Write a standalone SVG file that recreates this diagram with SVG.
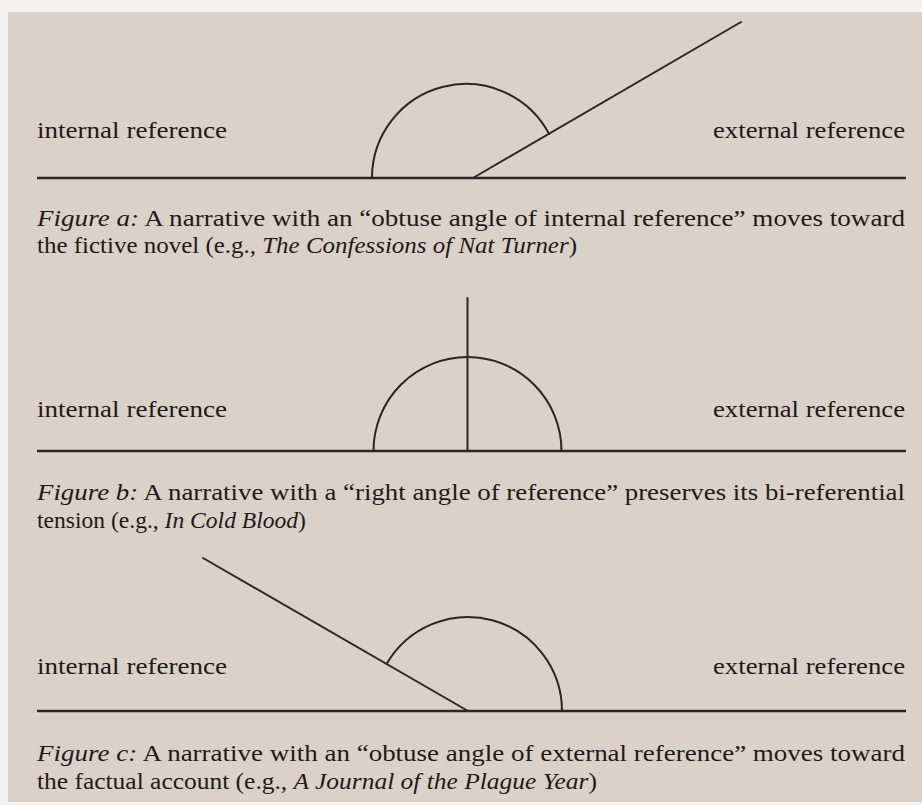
<svg xmlns="http://www.w3.org/2000/svg" width="922" height="805" viewBox="0 0 922 805">
<style>
.ln{stroke:#2b2623;stroke-width:2;fill:none;stroke-linecap:round}
.base{stroke:#2b2623;stroke-width:2.6;fill:none}
.t{font-family:"Liberation Serif","Times New Roman",serif;font-size:23px;fill:#1f1a17}
.i{font-style:italic}
</style>
<rect x="0" y="0" width="922" height="805" fill="#f4f2ef"/>
<rect x="8" y="12" width="914" height="790" fill="#dad1c9"/>

<g id="figure-a">
  <line class="base" x1="37" y1="178" x2="906" y2="178"/>
  <path class="ln" d="M372,178 A94,94 0 0 1 549.1,134"/>
  <line class="ln" x1="473" y1="178" x2="741" y2="22"/>
  <text class="t" x="37" y="138" textLength="190" lengthAdjust="spacingAndGlyphs">internal reference</text>
  <text class="t" x="713" y="138" textLength="192" lengthAdjust="spacingAndGlyphs">external reference</text>
  <text class="t" x="37" y="226" textLength="868" lengthAdjust="spacingAndGlyphs"><tspan class="i">Figure a:</tspan> A narrative with an “obtuse angle of internal reference” moves toward</text>
  <text class="t" x="37" y="253" textLength="540" lengthAdjust="spacingAndGlyphs">the fictive novel (e.g., <tspan class="i">The Confessions of Nat Turner</tspan>)</text>
</g>

<g id="figure-b">
  <line class="base" x1="37" y1="451" x2="906" y2="451"/>
  <path class="ln" d="M373.5,451 A94,94 0 0 1 561.5,451"/>
  <line class="ln" x1="467.5" y1="298" x2="467.5" y2="451"/>
  <text class="t" x="37" y="417" textLength="190" lengthAdjust="spacingAndGlyphs">internal reference</text>
  <text class="t" x="713" y="417" textLength="192" lengthAdjust="spacingAndGlyphs">external reference</text>
  <text class="t" x="37" y="500" textLength="868" lengthAdjust="spacingAndGlyphs"><tspan class="i">Figure b:</tspan> A narrative with a “right angle of reference” preserves its bi-referential</text>
  <text class="t" x="37" y="528" textLength="269" lengthAdjust="spacingAndGlyphs">tension (e.g., <tspan class="i">In Cold Blood</tspan>)</text>
</g>

<g id="figure-c">
  <line class="base" x1="37" y1="711" x2="906" y2="711"/>
  <line class="ln" x1="203" y1="558" x2="468" y2="711"/>
  <path class="ln" d="M562,711 A94,94 0 0 0 386.6,664"/>
  <text class="t" x="37" y="674" textLength="190" lengthAdjust="spacingAndGlyphs">internal reference</text>
  <text class="t" x="713" y="674" textLength="192" lengthAdjust="spacingAndGlyphs">external reference</text>
  <text class="t" x="37" y="761" textLength="868" lengthAdjust="spacingAndGlyphs"><tspan class="i">Figure c:</tspan> A narrative with an “obtuse angle of external reference” moves toward</text>
  <text class="t" x="37" y="789" textLength="560" lengthAdjust="spacingAndGlyphs">the factual account (e.g., <tspan class="i">A Journal of the Plague Year</tspan>)</text>
</g>
</svg>
